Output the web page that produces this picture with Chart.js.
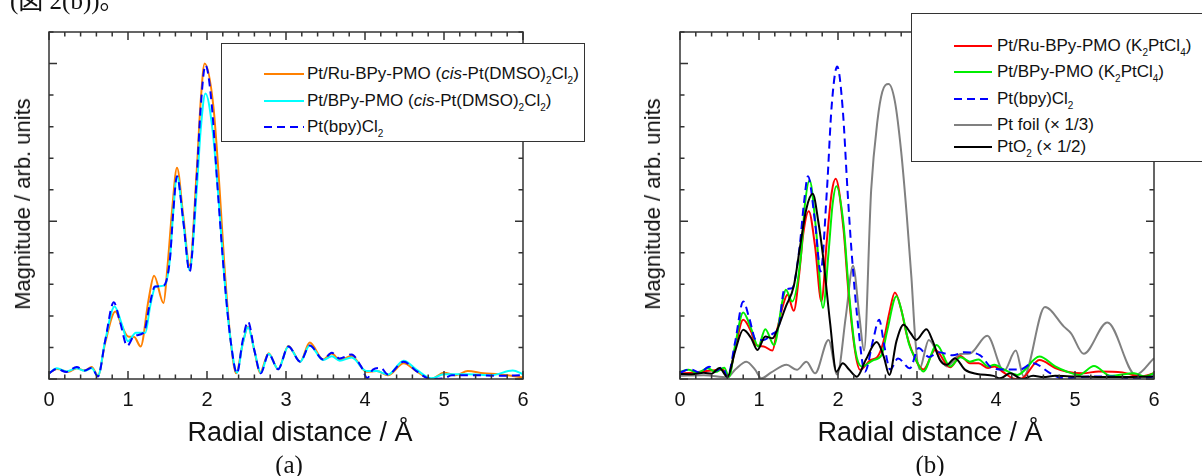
<!DOCTYPE html>
<html>
<head>
<meta charset="utf-8">
<script src="https://cdn.jsdelivr.net/npm/chart.js@4.4.1/dist/chart.umd.min.js"></script>
<style>
  html,body{margin:0;padding:0;background:#fff;}
  body{width:1202px;height:476px;position:relative;overflow:hidden;font-family:"Liberation Sans",Arial,sans-serif;color:#111;}
  canvas{position:absolute;top:0;}
  .txt{position:absolute;white-space:nowrap;line-height:1;}
  .ylab{font-size:22px;transform:translate(-50%,-50%) rotate(-90deg);}
  .xlab{font-size:27px;transform:translateX(-50%);}
  .pl{font-family:"Liberation Serif","Times New Roman",serif;font-size:25px;transform:translateX(-50%);}
  .leg{position:absolute;background:#fff;border:1.5px solid #333;box-sizing:border-box;}
  .row{position:absolute;left:0;height:20px;width:400px;}
  .row svg{position:absolute;top:0;}
  .row span{position:absolute;top:0;line-height:20px;font-size:17px;white-space:nowrap;}
  sub{font-size:10px;vertical-align:-5px;line-height:0;}
</style>
</head>
<body>
<canvas id="ca" width="601" height="476" style="left:0"></canvas>
<canvas id="cb" width="601" height="476" style="left:601px"></canvas>

<div class="txt" style="left:10px;top:-12px;font-family:'Liberation Serif','Noto Sans CJK JP',serif;font-size:25px;">(図 2(b))。</div>

<div class="txt ylab" style="left:23px;top:204px;">Magnitude / arb. units</div>
<div class="txt ylab" style="left:653px;top:204px;">Magnitude / arb. units</div>
<div class="txt xlab" style="left:300px;top:419px;">Radial distance / Å</div>
<div class="txt xlab" style="left:930px;top:419px;">Radial distance / Å</div>
<div class="txt pl" style="left:289px;top:452px;">(a)</div>
<div class="txt pl" style="left:930px;top:452px;">(b)</div>

<div class="leg" style="left:221px;top:43px;width:364px;height:99px;">
  <div class="row" style="top:20px;"><svg width="120" height="20" style="left:40px"><line x1="2" y1="10" x2="42" y2="10" stroke="#ff8000" stroke-width="2"/></svg><span style="left:85px">Pt/Ru-BPy-PMO (<i>cis</i>-Pt(DMSO)<sub>2</sub>Cl<sub>2</sub>)</span></div>
  <div class="row" style="top:47px;"><svg width="120" height="20" style="left:40px"><line x1="2" y1="10" x2="42" y2="10" stroke="#00ffff" stroke-width="2"/></svg><span style="left:85px">Pt/BPy-PMO (<i>cis</i>-Pt(DMSO)<sub>2</sub>Cl<sub>2</sub>)</span></div>
  <div class="row" style="top:73px;"><svg width="120" height="20" style="left:40px"><line x1="2" y1="10" x2="42" y2="10" stroke="#0000ff" stroke-width="2" stroke-dasharray="8,5"/></svg><span style="left:85px">Pt(bpy)Cl<sub>2</sub></span></div>
</div>

<div class="leg" style="left:911px;top:13px;width:300px;height:149px;">
  <div class="row" style="top:22px;"><svg width="120" height="20" style="left:40px"><line x1="2" y1="10" x2="40" y2="10" stroke="#ff0000" stroke-width="2"/></svg><span style="left:85px">Pt/Ru-BPy-PMO (K<sub>2</sub>PtCl<sub>4</sub>)</span></div>
  <div class="row" style="top:48px;"><svg width="120" height="20" style="left:40px"><line x1="2" y1="10" x2="40" y2="10" stroke="#00ee00" stroke-width="2"/></svg><span style="left:85px">Pt/BPy-PMO (K<sub>2</sub>PtCl<sub>4</sub>)</span></div>
  <div class="row" style="top:75px;"><svg width="120" height="20" style="left:40px"><line x1="2" y1="10" x2="40" y2="10" stroke="#0000ff" stroke-width="2" stroke-dasharray="8,5"/></svg><span style="left:85px">Pt(bpy)Cl<sub>2</sub></span></div>
  <div class="row" style="top:101px;"><svg width="120" height="20" style="left:40px"><line x1="2" y1="10" x2="40" y2="10" stroke="#808080" stroke-width="2"/></svg><span style="left:85px">Pt foil (× 1/3)</span></div>
  <div class="row" style="top:123px;"><svg width="120" height="20" style="left:40px"><line x1="2" y1="10" x2="40" y2="10" stroke="#000000" stroke-width="2"/></svg><span style="left:85px">PtO<sub>2</sub> (× 1/2)</span></div>
</div>

<script>
// ---------- data (radial distance in Å, magnitude in arb. units) ----------
const xTickLabels = ['0','1','2','3','4','5','6'];

// panel (a)
const aRuX = [0,0.1,0.25,0.35,0.45,0.54,0.62,0.71,0.84,0.92,1.0,1.08,1.16,1.26,1.33,1.45,1.5,1.56,1.62,1.7,1.78,1.87,1.92,1.97,2.08,2.16,2.22,2.3,2.37,2.45,2.52,2.6,2.67,2.78,2.9,3.03,3.18,3.3,3.47,3.58,3.68,3.83,4.02,4.15,4.29,4.49,4.65,4.84,5.0,5.15,5.3,5.5,5.7,5.85,6.0];
const aRuY = [0.18,0.32,0.23,0.34,0.27,0.38,0.11,1.13,2.14,1.7,1.35,1.33,1.03,2.51,3.27,2.41,3.57,5.4,6.7,5.16,3.6,6.6,8.8,10.0,8.66,6.0,3.6,1.2,0.18,1.1,1.66,0.9,0.2,0.82,0.31,1.05,0.55,1.16,0.62,0.81,0.6,0.73,0.23,0.25,0.12,0.5,0.25,0.0,0.2,0.12,0.25,0.18,0.15,0.1,0.05];

const aBPyX = [0,0.1,0.22,0.35,0.45,0.54,0.62,0.71,0.83,0.92,1.0,1.1,1.22,1.28,1.35,1.46,1.53,1.57,1.62,1.7,1.78,1.87,1.92,1.98,2.07,2.15,2.22,2.3,2.38,2.45,2.52,2.6,2.68,2.78,2.9,3.03,3.18,3.3,3.47,3.58,3.68,3.83,4.02,4.15,4.29,4.49,4.65,4.84,5.0,5.3,5.6,5.87,6.0];
const aBPyY = [0.18,0.34,0.24,0.34,0.26,0.34,0.1,1.2,2.3,1.75,1.2,1.47,1.47,2.3,2.93,2.96,3.78,5.2,6.43,5.0,3.45,6.0,7.9,9.05,7.9,5.6,3.2,1.2,0.2,1.1,1.64,0.9,0.2,0.8,0.31,1.03,0.55,1.06,0.6,0.72,0.58,0.68,0.25,0.25,0.14,0.58,0.3,0.02,0.15,0.15,0.12,0.27,0.15];

const aRefX = [0,0.1,0.22,0.35,0.45,0.54,0.62,0.71,0.82,0.9,0.99,1.08,1.2,1.27,1.34,1.45,1.53,1.57,1.62,1.7,1.78,1.87,1.92,1.98,2.06,2.13,2.22,2.3,2.38,2.45,2.52,2.6,2.68,2.78,2.9,3.03,3.18,3.3,3.47,3.58,3.68,3.83,3.95,4.03,4.1,4.2,4.29,4.49,4.65,4.84,5.0,5.1,5.4,5.7,6.0];
const aRefY = [0.18,0.32,0.22,0.38,0.27,0.36,0.08,1.2,2.43,1.8,1.05,1.37,1.47,2.3,2.93,2.96,3.78,5.2,6.43,5.0,3.4,6.4,8.6,9.95,8.7,6.2,3.2,1.2,0.18,1.2,1.82,0.9,0.18,0.8,0.31,1.03,0.55,1.06,0.62,0.83,0.65,0.78,0.4,0.03,0.3,0.35,0.14,0.55,0.25,0.0,0.02,0.12,0.12,0.1,0.12];

// panel (b)
const bRuX = [0,0.15,0.25,0.4,0.54,0.61,0.7,0.8,0.9,0.96,1.06,1.17,1.23,1.3,1.36,1.44,1.51,1.56,1.63,1.71,1.79,1.86,1.92,1.97,2.07,2.13,2.22,2.28,2.41,2.5,2.57,2.65,2.72,2.8,2.87,2.95,3.08,3.23,3.42,3.55,3.67,3.78,3.9,3.98,4.1,4.25,4.33,4.55,4.75,4.9,5.1,5.3,5.6,5.83,6.0];
const bRuY = [0.18,0.2,0.23,0.27,0.3,0.07,1.0,1.88,1.5,1.08,1.03,0.9,1.56,2.3,2.67,2.16,3.36,4.6,5.32,4.2,2.46,4.42,5.9,6.35,4.74,2.83,0.82,0.29,0.6,0.7,1.13,2.1,2.74,2.2,1.4,0.8,0.3,0.92,0.37,0.73,0.5,0.5,0.35,0.4,0.2,0.0,0.02,0.6,0.35,0.23,0.18,0.24,0.21,0.08,0.18];

const bBPyX = [0,0.11,0.22,0.35,0.45,0.56,0.62,0.7,0.8,0.9,0.99,1.08,1.19,1.3,1.34,1.42,1.53,1.58,1.64,1.72,1.81,1.88,1.93,1.98,2.07,2.14,2.22,2.3,2.45,2.55,2.62,2.74,2.82,2.9,2.98,3.08,3.25,3.42,3.55,3.67,3.78,3.9,3.98,4.1,4.27,4.55,4.75,4.9,5.05,5.24,5.45,5.75,5.88,6.0];
const bBPyY = [0.23,0.29,0.2,0.34,0.22,0.36,0.07,1.1,2.11,1.6,1.03,1.58,1.08,2.51,2.83,2.46,3.89,5.5,6.3,4.8,2.25,4.0,5.5,6.11,4.9,2.7,0.9,0.4,0.6,0.75,1.5,2.62,2.0,1.1,0.65,0.24,1.08,0.4,0.69,0.55,0.62,0.4,0.45,0.3,0.13,0.71,0.4,0.23,0.13,0.41,0.1,0.18,0.08,0.18];

const bRefX = [0,0.13,0.25,0.37,0.45,0.54,0.6,0.7,0.8,0.88,0.96,1.06,1.17,1.25,1.32,1.42,1.51,1.57,1.62,1.71,1.78,1.86,1.92,1.99,2.06,2.12,2.17,2.26,2.34,2.45,2.52,2.59,2.66,2.76,2.91,3.02,3.15,3.28,3.45,3.6,3.8,3.95,4.1,4.3,4.47,4.69,4.85,5.2,5.5,5.75,6.0];
const bRefY = [0.2,0.31,0.2,0.39,0.25,0.37,0.07,1.2,2.46,1.9,1.24,1.24,1.43,1.66,2.83,2.88,4.1,5.6,6.43,4.95,3.41,6.0,8.66,9.91,8.55,6.0,4.1,1.56,0.23,1.3,1.88,1.0,0.3,0.65,0.34,0.98,0.7,0.85,0.75,0.85,0.75,0.35,0.3,0.3,0.5,0.18,0.02,0.08,0.08,0.0,0.08];

const bFoilX = [0,0.3,0.6,0.7,0.84,0.95,1.03,1.15,1.35,1.48,1.6,1.71,1.88,1.99,2.1,2.19,2.27,2.33,2.42,2.5,2.56,2.64,2.72,2.8,2.87,2.93,2.98,3.03,3.15,3.3,3.38,3.55,3.67,3.89,4.1,4.25,4.35,4.62,4.86,4.95,5.11,5.41,5.77,6.0];
const bFoilY = [0.1,0.12,0.05,0.3,0.55,0.3,0.02,0.2,0.45,0.29,0.55,0.18,1.24,0.14,2.0,3.59,2.0,0.9,6.0,8.2,9.1,9.35,8.8,7.2,5.2,3.2,1.2,0.31,1.24,0.6,0.4,0.79,0.81,1.37,0.25,0.9,0.08,2.28,1.66,1.45,0.8,1.79,0.13,0.66];

const bOxX = [0,0.15,0.3,0.4,0.5,0.6,0.7,0.8,0.9,0.98,1.08,1.17,1.23,1.34,1.44,1.52,1.6,1.68,1.75,1.81,1.9,1.98,2.06,2.14,2.24,2.35,2.49,2.58,2.65,2.74,2.83,2.92,2.99,3.12,3.2,3.29,3.38,3.48,3.61,3.76,3.97,4.05,4.18,4.33,4.47,4.6,4.75,5.0,5.5,6.0];
const bOxY = [0.16,0.15,0.2,0.17,0.35,0.07,0.9,1.56,1.3,0.92,1.35,1.29,1.56,2.3,2.94,4.2,5.4,5.87,5.0,3.9,1.78,0.23,0.5,0.3,0.07,0.6,1.17,0.7,0.13,1.2,1.72,1.45,1.24,1.58,1.2,0.6,0.45,0.66,0.29,0.16,0.1,0.02,0.18,0.0,0.1,0.06,0.1,0.08,0.06,0.08];

// ---------- chart building ----------
const pts = (X, Y) => X.map((x, i) => ({x, y: Y[i]}));
function ds(label, X, Y, color, order, dash) {
  return {label, data: pts(X, Y), borderColor: color, borderWidth: 2, pointRadius: 0,
          cubicInterpolationMode: 'monotone', fill: false, order, borderDash: dash || []};
}

const frameTicks = {
  id: 'frameTicks',
  afterDraw(chart) {
    const {ctx, chartArea: a, scales: {x, y}} = chart;
    ctx.save();
    ctx.strokeStyle = '#333';
    ctx.lineWidth = 1.5;
    ctx.strokeRect(a.left, a.top, a.right - a.left, a.bottom - a.top);
    ctx.beginPath();
    for (let i = 0; i <= 30; i++) {
      const px = x.getPixelForValue(i * 0.2);
      const len = (i % 5 === 0) ? 8 : 4.5;
      ctx.moveTo(px, a.bottom); ctx.lineTo(px, a.bottom - len);
      ctx.moveTo(px, a.top); ctx.lineTo(px, a.top + len);
    }
    for (let v = 0; v <= 11; v++) {
      const py = y.getPixelForValue(v);
      const len = (v % 5 === 0) ? 8 : 4.5;
      ctx.moveTo(a.left, py); ctx.lineTo(a.left + len, py);
      ctx.moveTo(a.right, py); ctx.lineTo(a.right - len, py);
    }
    ctx.stroke();
    ctx.restore();
  }
};

function makeChart(id, datasets, padLeft, padRight) {
  return new Chart(document.getElementById(id), {
    type: 'line',
    data: {datasets},
    options: {
      responsive: false, animation: false,
      layout: {padding: {left: padLeft, right: padRight, top: 32, bottom: 0}},
      plugins: {legend: {display: false}, tooltip: {enabled: false}},
      scales: {
        x: {type: 'linear', min: 0, max: 6, position: 'bottom',
            grid: {display: false}, border: {display: false},
            ticks: {stepSize: 1, padding: 1, color: '#111',
                    font: {family: 'Liberation Sans', size: 20},
                    callback: v => xTickLabels[Math.round(v)]},
            afterFit: s => { s.height = 97; }},
        y: {type: 'linear', min: 0, max: 11, display: false}
      }
    },
    plugins: [frameTicks]
  });
}

makeChart('ca', [
  ds('Pt/Ru-BPy-PMO (cis-Pt(DMSO)2Cl2)', aRuX, aRuY, '#ff8000', 2),
  ds('Pt/BPy-PMO (cis-Pt(DMSO)2Cl2)', aBPyX, aBPyY, '#00ffff', 1),
  ds('Pt(bpy)Cl2', aRefX, aRefY, '#0000ff', 0, [8, 5])
], 49, 78);

makeChart('cb', [
  ds('Pt foil (x 1/3)', bFoilX, bFoilY, '#808080', 4),
  ds('Pt/Ru-BPy-PMO (K2PtCl4)', bRuX, bRuY, '#ff0000', 3),
  ds('Pt/BPy-PMO (K2PtCl4)', bBPyX, bBPyY, '#00ee00', 2),
  ds('Pt(bpy)Cl2', bRefX, bRefY, '#0000ff', 1, [8, 5]),
  ds('PtO2 (x 1/2)', bOxX, bOxY, '#000000', 0)
], 79, 48);
</script>
</body>
</html>
